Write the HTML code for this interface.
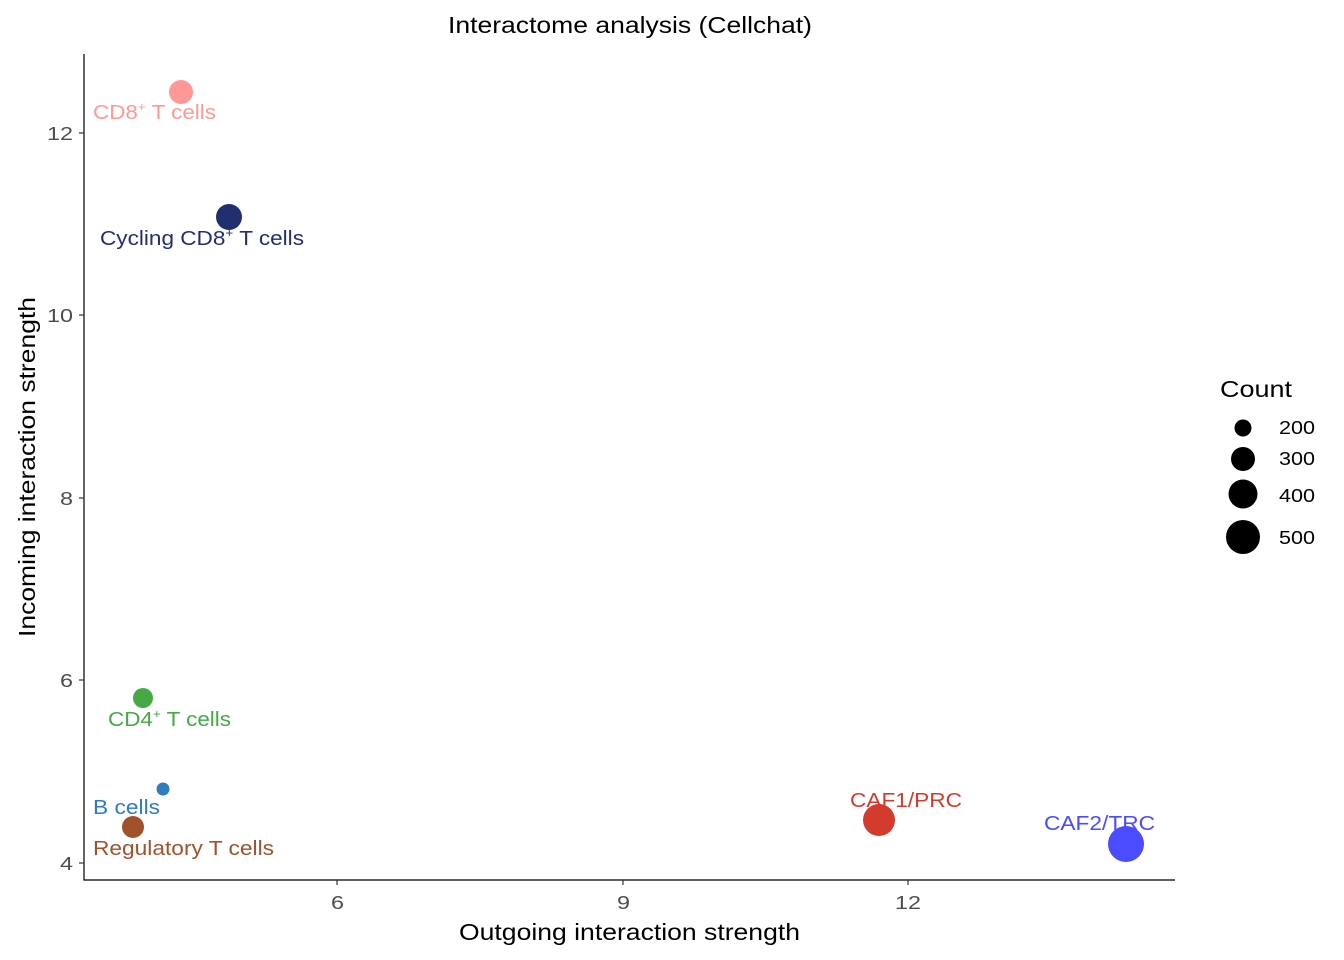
<!DOCTYPE html>
<html><head><meta charset="utf-8"><style>
html,body{margin:0;padding:0;background:#fff;}
svg{display:block;font-family:"Liberation Sans",sans-serif;}
</style></head><body>
<svg width="1344" height="960" viewBox="0 0 1344 960">
<rect width="1344" height="960" fill="#fff"/>
<text x="448" y="33" font-size="23" textLength="364" lengthAdjust="spacingAndGlyphs" fill="#000">Interactome analysis (Cellchat)</text>
<line x1="84" y1="54" x2="84" y2="880.5" stroke="#000" stroke-width="1.2"/>
<line x1="83.5" y1="880" x2="1175" y2="880" stroke="#000" stroke-width="1.2"/>
<g stroke="#333" stroke-width="1.2">
<line x1="79" y1="133" x2="84" y2="133"/><line x1="79" y1="315" x2="84" y2="315"/>
<line x1="79" y1="498" x2="84" y2="498"/><line x1="79" y1="680" x2="84" y2="680"/>
<line x1="79" y1="863" x2="84" y2="863"/>
<line x1="337" y1="880" x2="337" y2="885"/><line x1="623" y1="880" x2="623" y2="885"/>
<line x1="908" y1="880" x2="908" y2="885"/>
</g>
<g font-size="18" fill="#4d4d4d" lengthAdjust="spacingAndGlyphs">
<text x="47" y="140" textLength="26" lengthAdjust="spacingAndGlyphs">12</text>
<text x="47" y="322" textLength="26" lengthAdjust="spacingAndGlyphs">10</text>
<text x="60" y="505" textLength="13" lengthAdjust="spacingAndGlyphs">8</text>
<text x="60" y="687" textLength="13" lengthAdjust="spacingAndGlyphs">6</text>
<text x="60" y="870" textLength="13" lengthAdjust="spacingAndGlyphs">4</text>
<text x="331" y="909" textLength="13" lengthAdjust="spacingAndGlyphs">6</text>
<text x="617" y="909" textLength="13" lengthAdjust="spacingAndGlyphs">9</text>
<text x="895" y="909" textLength="26" lengthAdjust="spacingAndGlyphs">12</text>
</g>
<text x="459" y="940" font-size="23" textLength="341" lengthAdjust="spacingAndGlyphs">Outgoing interaction strength</text>
<text transform="translate(35,637) rotate(-90)" font-size="23" textLength="340" lengthAdjust="spacingAndGlyphs">Incoming interaction strength</text>

<circle cx="181" cy="92" r="12" fill="#FF9896"/>
<circle cx="229" cy="217" r="13" fill="#212F71"/>
<circle cx="143" cy="698" r="10" fill="#46A944"/>
<circle cx="163" cy="789" r="6.5" fill="#2F7DBE"/>
<circle cx="133" cy="827" r="11" fill="#A0522D"/>
<circle cx="879" cy="820" r="16" fill="#D33B2F"/>
<circle cx="1126" cy="844" r="18" fill="#4B4BFF"/>

<g font-size="20">
<text x="93" y="119" fill="#FF9896" textLength="123" lengthAdjust="spacingAndGlyphs">CD8<tspan font-size="12" dy="-8">+</tspan><tspan dy="8"> T cells</tspan></text>
<text x="100" y="245" fill="#212F71" textLength="204" lengthAdjust="spacingAndGlyphs">Cycling CD8<tspan font-size="12" dy="-8">+</tspan><tspan dy="8"> T cells</tspan></text>
<text x="108" y="726" fill="#46A944" textLength="123" lengthAdjust="spacingAndGlyphs">CD4<tspan font-size="12" dy="-8">+</tspan><tspan dy="8"> T cells</tspan></text>
<text x="93" y="814" fill="#2F7DBE" textLength="67" lengthAdjust="spacingAndGlyphs">B cells</text>
<text x="93" y="855" fill="#A0522D" textLength="181" lengthAdjust="spacingAndGlyphs">Regulatory T cells</text>
<text x="850" y="807" fill="#D33B2F" textLength="112" lengthAdjust="spacingAndGlyphs">CAF1/PRC</text>
<text x="1044" y="830" fill="#4B4BFF" textLength="111" lengthAdjust="spacingAndGlyphs">CAF2/TRC</text>
</g>

<text x="1220" y="397" font-size="23" textLength="72" lengthAdjust="spacingAndGlyphs">Count</text>
<circle cx="1243" cy="428" r="8.5" fill="#000"/>
<circle cx="1243" cy="459" r="12" fill="#000"/>
<circle cx="1243" cy="494" r="14.5" fill="#000"/>
<circle cx="1243" cy="537" r="17" fill="#000"/>
<g font-size="18">
<text x="1279" y="434" textLength="36" lengthAdjust="spacingAndGlyphs">200</text>
<text x="1279" y="465" textLength="36" lengthAdjust="spacingAndGlyphs">300</text>
<text x="1279" y="502" textLength="36" lengthAdjust="spacingAndGlyphs">400</text>
<text x="1279" y="544" textLength="36" lengthAdjust="spacingAndGlyphs">500</text>
</g>
</svg>
</body></html>
